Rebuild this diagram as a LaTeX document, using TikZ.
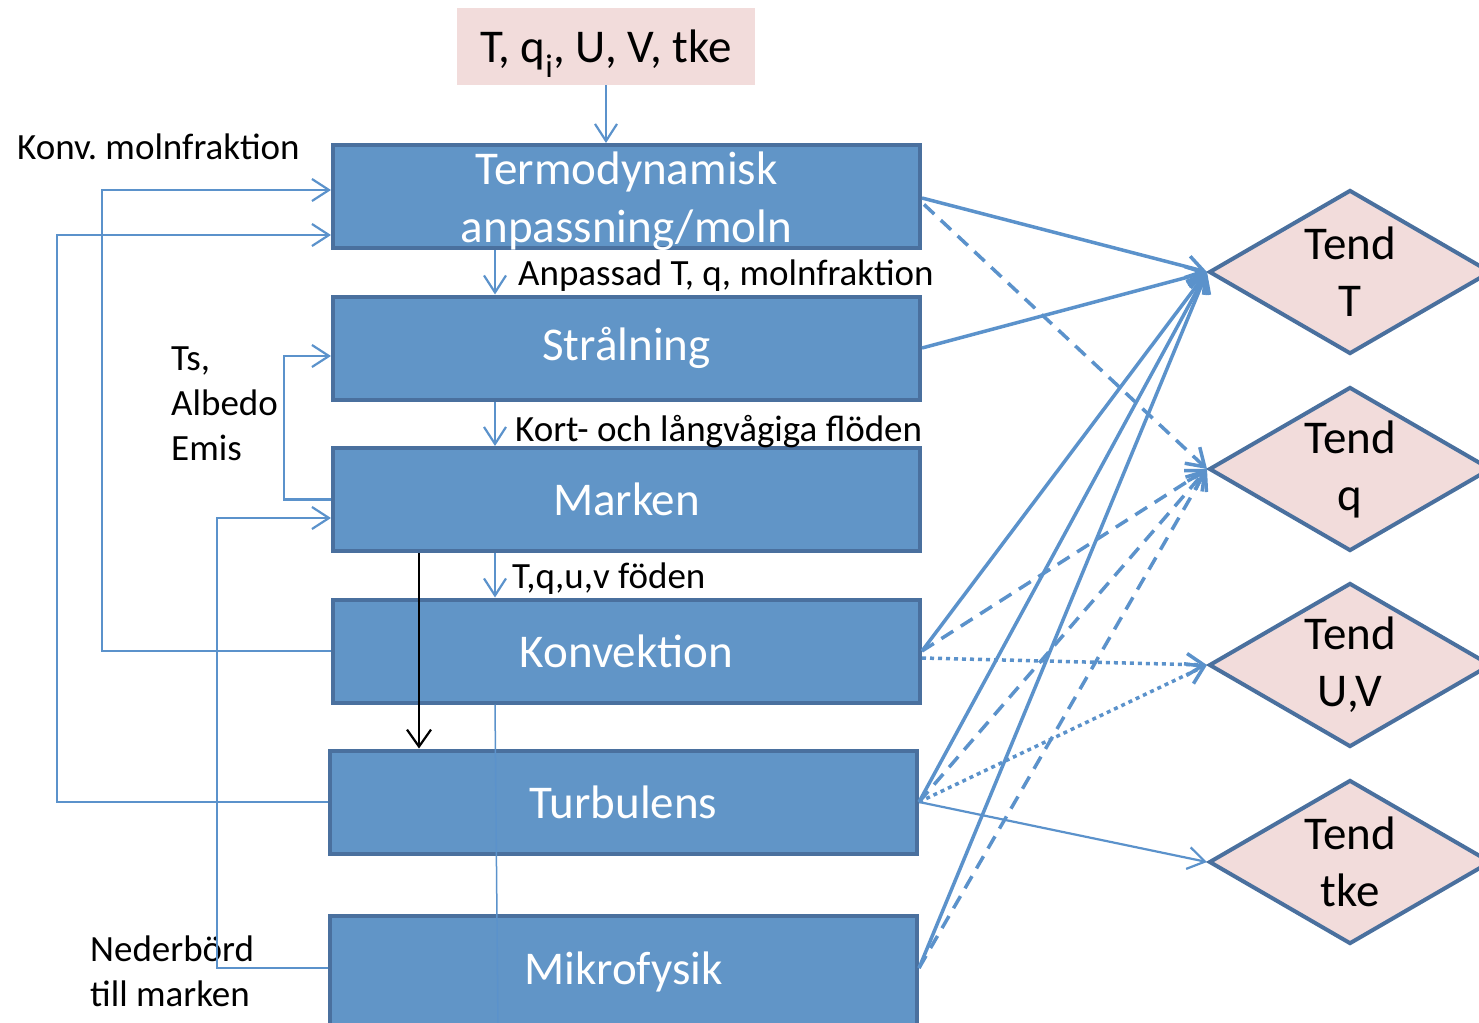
\documentclass[tikz,border=0pt]{standalone}
\usepackage{fontspec}
\setmainfont{Carlito}
\frenchspacing
\usetikzlibrary{arrows.meta,shapes.geometric,calc}
\definecolor{boxfill}{RGB}{97,149,199}
\definecolor{boxline}{RGB}{74,112,158}
\definecolor{linkblue}{RGB}{91,146,203}
\definecolor{pinkfill}{RGB}{242,220,219}

\begin{document}
\begin{tikzpicture}[x=1pt,y=-1pt,
  stage/.style={draw=boxline, line width=4pt, fill=boxfill, minimum width=587pt,
    minimum height=103pt, inner sep=0pt, text=white, align=center,
    font=\fontsize{47}{58}\selectfont},
  tendency/.style={diamond, aspect=1.72, draw=boxline, line width=4pt, fill=pinkfill,
    minimum width=282pt, minimum height=164pt, inner sep=0pt, align=center,
    font=\fontsize{47}{57}\selectfont},
  lbl/.style={anchor=base west, inner sep=0pt, align=left,
    font=\fontsize{37}{45}\selectfont},
  tip/.style={-{Straight Barb[length=17pt,width=22pt]}},
  feed/.style={draw=linkblue, line width=2.2pt, tip},
  flowT/.style={draw=linkblue, line width=3.5pt, tip},
  flowq/.style={draw=linkblue, line width=3.5pt, dash pattern=on 14pt off 9pt, tip},
  flowU/.style={draw=linkblue, line width=3.5pt, dash pattern=on 4pt off 4pt, tip},
  flowtke/.style={draw=linkblue, line width=2.2pt, tip}
]
\useasboundingbox (0,0) rectangle (1479,1022);

% input state
\node[fill=pinkfill, minimum width=298pt, minimum height=77pt, inner sep=0pt,
  text height=55pt, text depth=22pt,
  font=\fontsize{47}{56}\selectfont] (in) at (606,46.5) {T, q\textsubscript{i}, U, V, tke};

% process chain
\node[stage, label={[name=Ttext, text=white, align=center, inner sep=0pt,
  font=\fontsize{47}{58}\selectfont, yshift=-5pt]center:Termodynamisk\\anpassning/moln}]
  (T) at (626.5,196.5) {};
\node[stage] (S) at (626.5,348) {Strålning};
\node[stage] (M) at (626.5,499.5) {Marken};
\node[stage] (K) at (626.5,651) {Konvektion};
\node[stage] (Tu) at (623.5,802) {Turbulens};
\node[stage, minimum height=112pt] (Mi) at (623.5,972) {Mikrofysik};

% tendencies
\node[tendency] (dT) at (1350,272) {Tend\\T};
\node[tendency] (dq) at (1350,469) {Tend\\q};
\node[tendency] (dU) at (1350,665) {Tend\\U,V};
\node[tendency] (dtke) at (1350,862) {Tend\\tke};

% labels (base anchor sits on the last line)
\node[lbl] (lkonv) at (17,159) {Konv. molnfraktion};
\node[lbl] (lanp) at (518,285) {Anpassad T, q, molnfraktion};
\node[lbl] (lkort) at (515,441) {Kort- och långvågiga flöden};
\node[lbl] (ltq) at (512,588) {T,q,u,v föden};
\node[lbl] (lts) at (171,460) {Ts,\\Albedo\\Emis};
\node[lbl] (lned) at (90,1006) {Nederbörd\\till marken};

% vertical chain
\draw[feed] (in) -- (T.north -| in);
\draw[feed] ($(T.south west)+(164,0)$) -- ($(S.north west)+(164,0)$);
\draw[feed] ($(S.south west)+(164,0)$) -- ($(M.north west)+(164,0)$);
\draw[feed] ($(M.south west)+(164,0)$) -- ($(K.north west)+(164,0)$);
\coordinate (chainend) at (498,1030);
\draw[draw=linkblue, line width=1.5pt] ($(K.south west)+(164,0)$) -- (chainend);
\draw[black, line width=2.2pt, -{Straight Barb[length=17pt,width=24pt]}]
  ($(M.south west)+(88,0)$) -- ($(Tu.north west)+(91,0)$);

% feedbacks on the left
\draw[feed] (K.west) -- ++(-229,0) |- ($(T.west)+(0,-6.5)$);
\draw[feed] (Tu.west) -- ++(-271,0) |- ($(T.west)+(0,38.5)$);
\draw[feed] (M.west) -- ++(-47,0) |- ($(S.west)+(0,8)$);
\draw[feed] ($(Mi.west)+(0,-4)$) -- ++(-111,0) |- ($(M.west)+(0,18.5)$);

% tendency contributions
\draw[flowT] ($(T.east)+(0,1.5)$) -- (dT.west);
\draw[flowq] ($(T.east)+(2,8)$) -- (dq.west);
\draw[flowT] (S.east) -- (dT.west);
\draw[flowT] (K.east) -- (dT.west);
\draw[flowq] (K.east) -- (dq.west);
\draw[flowU] ($(K.east)+(0,7)$) -- (dU.west);
\draw[flowT] (Tu.east) -- (dT.west);
\draw[flowq] (Tu.east) -- (dq.west);
\draw[flowU] (Tu.east) -- (dU.west);
\draw[flowtke] (Tu.east) -- (dtke.west);
\draw[flowT] ($(Mi.east)+(0,-4)$) -- (dT.west);
\draw[flowq] ($(Mi.east)+(0,-4)$) -- (dq.west);
\end{tikzpicture}
\end{document}
